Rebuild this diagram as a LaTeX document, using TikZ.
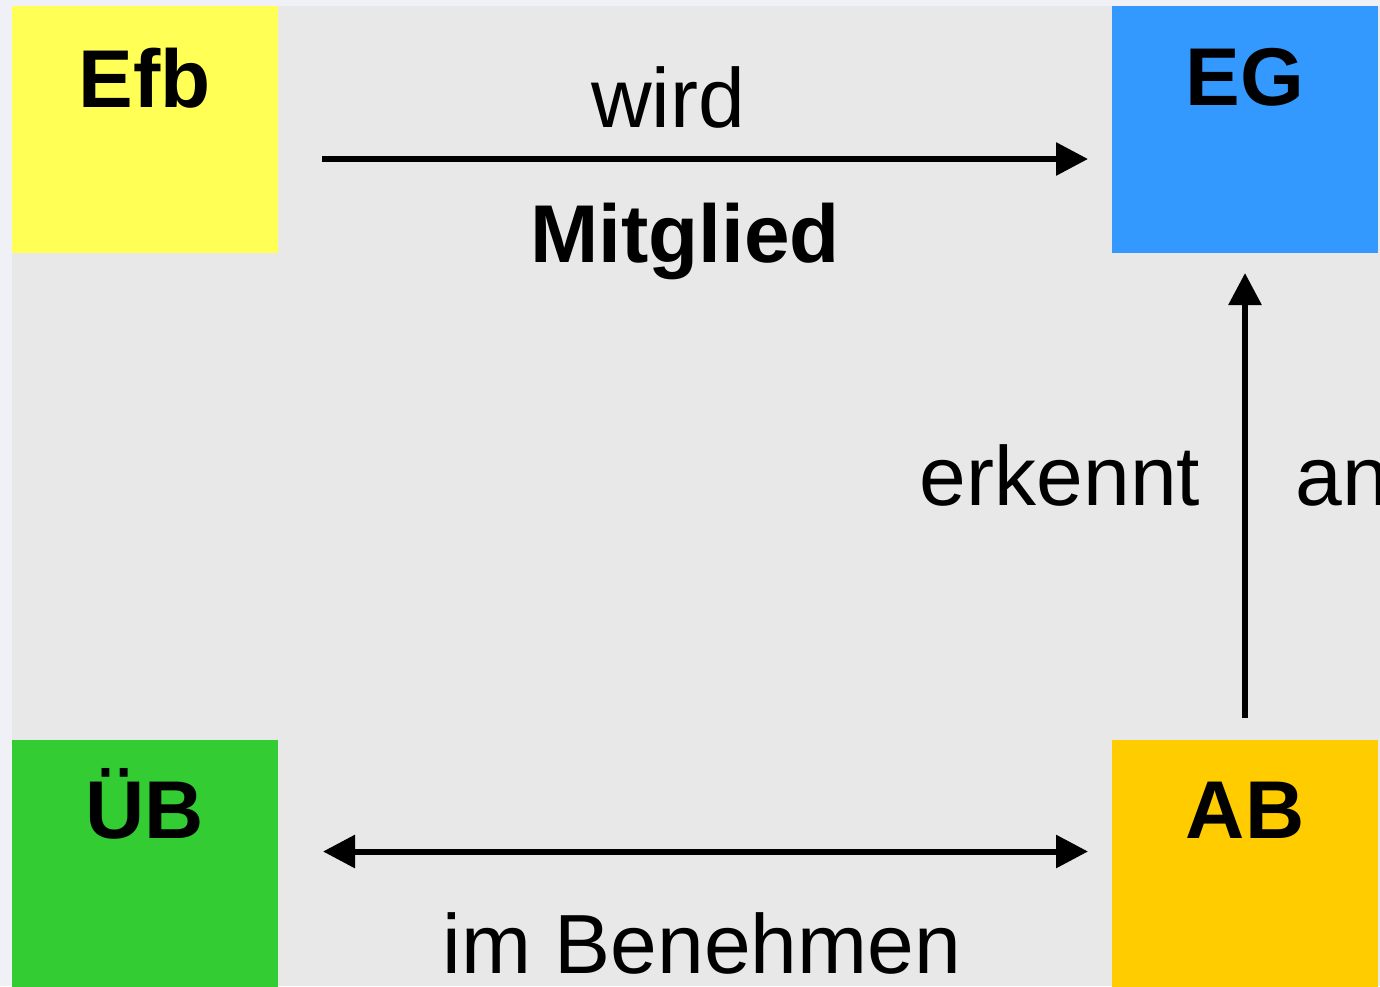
\documentclass[tikz,border=0pt]{standalone}
\usepackage{fontspec}
\setmainfont{Liberation Sans}
\usetikzlibrary{arrows.meta}
\definecolor{outerbg}{HTML}{EFF1F6}
\definecolor{innerbg}{HTML}{E8E8E8}
\definecolor{efbcol}{HTML}{FFFF55}
\definecolor{egcol}{HTML}{3399FF}
\definecolor{ubcol}{HTML}{33CC33}
\definecolor{abcol}{HTML}{FFCC00}

\begin{document}
\begin{tikzpicture}[x=0.5pt,y=-0.5pt,
	box/.style={draw=none, inner sep=0pt, outer sep=0pt, minimum width=133pt, minimum height=123.5pt, anchor=north west},
	boxname/.style={font=\fontsize{41}{41}\selectfont\bfseries, anchor=base, inner sep=0pt},
	word/.style={font=\fontsize{42}{42}\selectfont, anchor=base, inner sep=0pt},
	link/.style={line width=3pt, -{Triangle[length=16pt,width=16pt]}}]
	\useasboundingbox (0,0) rectangle (1380,986);
	\fill[outerbg] (0,0) rectangle (1380,986);
	\fill[innerbg] (12,6) rectangle (1380,986);
	% the four boxes
	\node[box, fill=efbcol] (efb) at (12,6) {};
	\node[box, fill=egcol] (eg) at (1112,6) {};
	\node[box, fill=ubcol] (ub) at (12,740) {};
	\node[box, fill=abcol] (ab) at (1112,740) {};
	\node[boxname] (efbname) at ([yshift=-50.5pt]efb.north) {Efb};
	\node[boxname] (egname) at ([yshift=-49.5pt]eg.north) {EG};
	\node[boxname] (ubname) at ([yshift=-49pt]ub.north) {ÜB};
	\node[boxname] (abname) at ([yshift=-49pt]ab.north) {AB};
	% arrows
	\draw[link, shorten <=22pt, shorten >=12pt] ([yshift=-14.75pt]efb.east) -- ([yshift=-14.75pt]eg.west);
	\draw[link, {Triangle[length=16pt,width=16pt]}-{Triangle[length=16pt,width=16pt]}, shorten <=22.5pt, shorten >=12pt] ([yshift=6pt]ub.east) -- ([yshift=6pt]ab.west);
	\draw[link, shorten <=11pt, shorten >=10pt] (ab.north) -- (eg.south);
	% texts
	\node[word] (wird) at (668,127) {wird};
	\node[word, font=\fontsize{41}{41}\selectfont\bfseries] (mitglied) at (685,262) {Mitglied};
	\node[word] (erkennt) at (1060,505) {erkennt};
	\node[word, anchor=base west] (an) at (1295,505) {an};
	\node[word] (benehmen) at (702,973) {im Benehmen};
\end{tikzpicture}
\end{document}
